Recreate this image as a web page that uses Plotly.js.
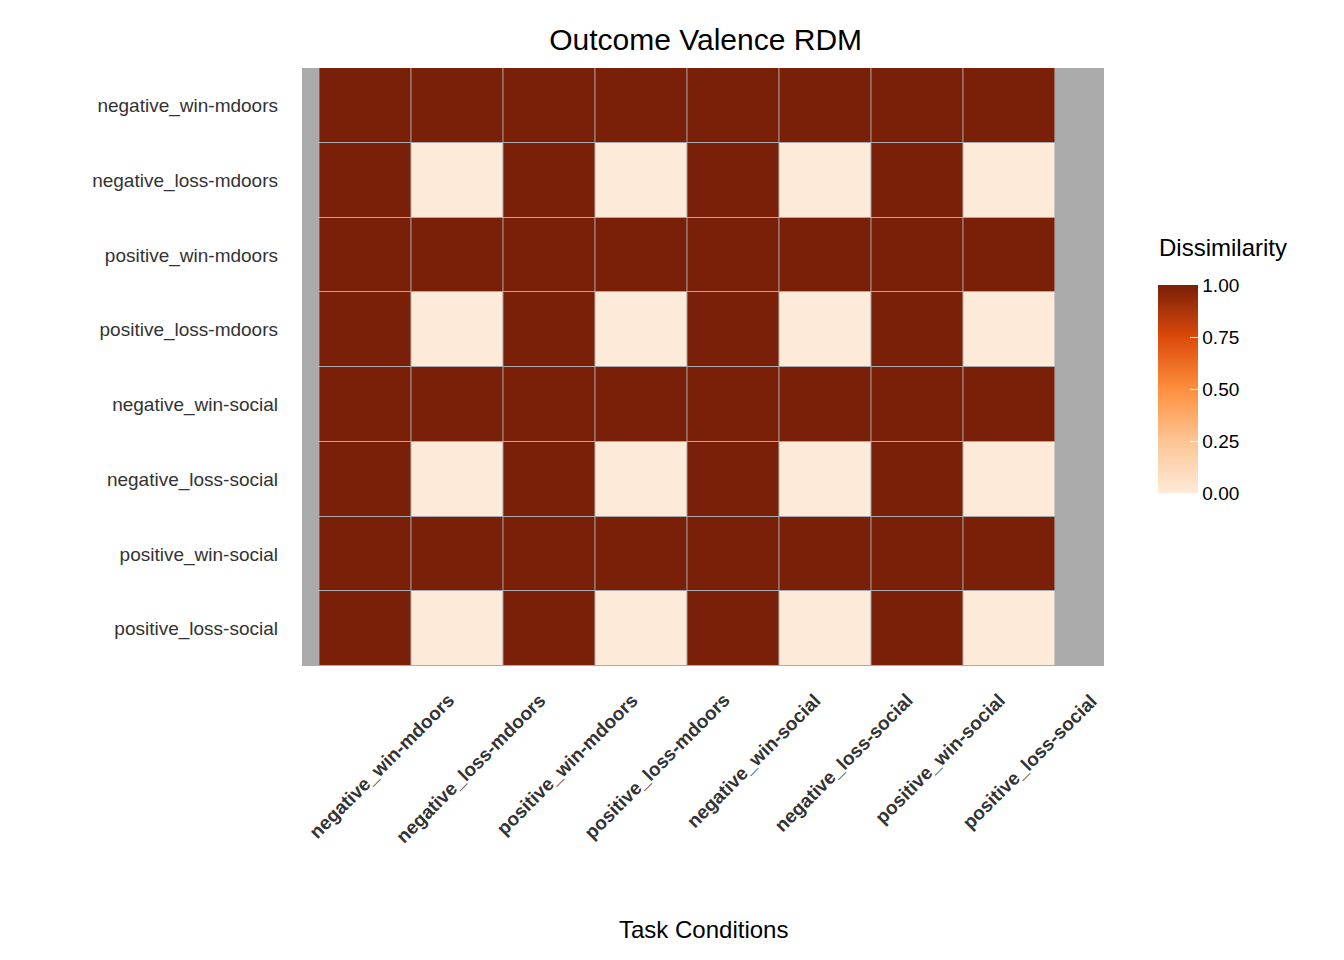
<!DOCTYPE html>
<html>
<head>
<meta charset="utf-8">
<script src="https://cdn.plot.ly/plotly-3.0.1.min.js"></script>
</head>
<body style="margin:0">
<div id="rdm" style="width:1344px;height:960px"></div>
<script>
var conditions = ['negative_win-mdoors', 'negative_loss-mdoors', 'positive_win-mdoors', 'positive_loss-mdoors',
  'negative_win-social', 'negative_loss-social', 'positive_win-social', 'positive_loss-social'];

// rows follow conditions order (top to bottom)
var dissimilarity = [
  [1, 1, 1, 1, 1, 1, 1, 1],
  [1, 0, 1, 0, 1, 0, 1, 0],
  [1, 1, 1, 1, 1, 1, 1, 1],
  [1, 0, 1, 0, 1, 0, 1, 0],
  [1, 1, 1, 1, 1, 1, 1, 1],
  [1, 0, 1, 0, 1, 0, 1, 0],
  [1, 1, 1, 1, 1, 1, 1, 1],
  [1, 0, 1, 0, 1, 0, 1, 0]
];

var colorTicks = [0, 0.25, 0.5, 0.75, 1];

var trace = {
  type: 'heatmap',
  x: conditions,
  y: conditions,
  z: dissimilarity,
  zmin: 0,
  zmax: 1,
  xgap: 1,
  ygap: 1,
  colorscale: [
    [0, '#feead8'],
    [0.25, '#fdc594'],
    [0.5, '#fd8f3e'],
    [0.75, '#dc4a0a'],
    [1, '#7a1f08']
  ],
  colorbar: {
    tickvals: colorTicks,
    tickformat: '.2f',
    tickfont: {family: 'Liberation Sans', size: 19, color: '#000'},
    ticks: 'inside',
    tickcolor: '#fff',
    ticklen: 8,
    outlinewidth: 0,
    thickness: 40,
    lenmode: 'pixels',
    len: 228,
    x: 1.055,
    xanchor: 'left',
    y: 0.463,
    yanchor: 'middle'
  }
};

// rotated x labels as annotations, so they end just right of each column centre
var annotations = conditions.map(function (c) {
  return {
    text: '<b>' + c + '</b>',
    x: c, xref: 'x',
    y: -0.035, yref: 'paper',
    xanchor: 'right', yanchor: 'top',
    xshift: 95,
    textangle: -45,
    showarrow: false,
    font: {family: 'Liberation Sans', size: 19, color: '#333'}
  };
});
annotations.push({
  text: 'Task Conditions', x: 0.5, xref: 'paper', y: -0.44, yref: 'paper',
  xanchor: 'center', yanchor: 'middle', showarrow: false,
  font: {family: 'Liberation Sans', size: 24, color: '#000'}
});
annotations.push({
  text: 'Dissimilarity', x: 1.066, xref: 'paper', y: 0.70, yref: 'paper',
  xanchor: 'left', yanchor: 'middle', showarrow: false,
  font: {family: 'Liberation Sans', size: 24, color: '#000'}
});

var layout = {
  title: {
    text: 'Outcome Valence RDM',
    font: {family: 'Liberation Sans', size: 30, color: '#000'},
    x: 0.525,
    y: 0.97
  },
  margin: {l: 302, r: 240, t: 68, b: 294},
  plot_bgcolor: '#aaaaaa',
  paper_bgcolor: '#fff',
  annotations: annotations,
  xaxis: {
    showticklabels: false,
    showgrid: false,
    zeroline: false,
    ticks: ''
  },
  yaxis: {
    autorange: 'reversed',
    tickfont: {family: 'Liberation Sans', size: 19, color: '#333'},
    showgrid: false,
    zeroline: false,
    ticks: '',
    ticklabelstandoff: 23
  }
};

Plotly.newPlot('rdm', [trace], layout, {displayModeBar: false});
</script>
</body>
</html>
